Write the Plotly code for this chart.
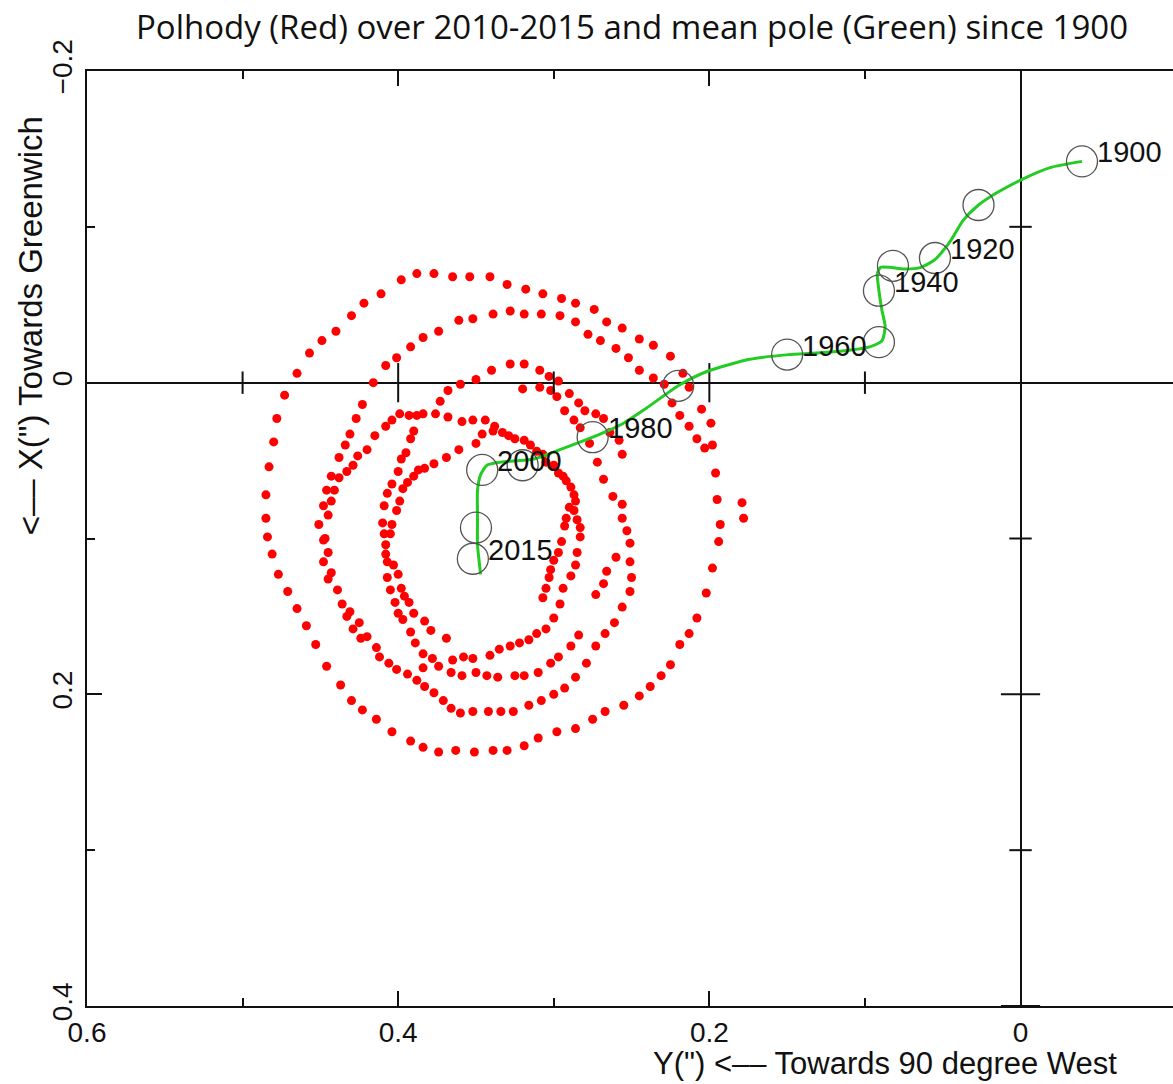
import plotly.graph_objects as go

# ---- Polhody 2010-2015: Y (toward 90 W, horizontal) and X (toward Greenwich, vertical), arcsec
polhody_y = [
    # outer loop
    0.398, 0.388, 0.377, 0.365, 0.354, 0.341, 0.330, 0.318, 0.307, 0.295, 0.286, 0.274,
    0.266, 0.256, 0.245, 0.236, 0.225, 0.217, 0.213, 0.205, 0.199,
    0.411, 0.422, 0.430, 0.440, 0.449, 0.457, 0.465, 0.473, 0.478, 0.480, 0.483, 0.485,
    0.485, 0.484, 0.481, 0.477, 0.471, 0.465, 0.459, 0.453, 0.446, 0.437, 0.430, 0.423,
    0.414, 0.404, 0.392, 0.384, 0.374, 0.363, 0.351, 0.339, 0.330, 0.319, 0.310, 0.298,
    0.286, 0.275, 0.267, 0.255, 0.245, 0.238, 0.231, 0.225, 0.219, 0.213, 0.208, 0.202,
    0.198, 0.194, 0.198, 0.196, 0.195, 0.193, 0.179, 0.178, 0.208, 0.203,
    # second loop
    0.361, 0.352, 0.339, 0.328, 0.319, 0.308, 0.296, 0.286, 0.278, 0.270, 0.260, 0.252,
    0.245, 0.236, 0.229, 0.224, 0.219, 0.213,
    0.374, 0.384, 0.392, 0.401, 0.408, 0.416, 0.423, 0.427, 0.431, 0.434, 0.438, 0.443,
    0.446, 0.448, 0.451, 0.448, 0.448, 0.445, 0.439, 0.436, 0.433, 0.429, 0.424,
    0.414, 0.406, 0.401, 0.394, 0.388, 0.383, 0.377, 0.371, 0.366, 0.360, 0.352, 0.342,
    0.334, 0.326, 0.316, 0.308, 0.300, 0.293, 0.286, 0.279, 0.273, 0.267, 0.261, 0.256,
    0.251, 0.250, 0.251, 0.251, 0.253, 0.256, 0.256, 0.256, 0.258,
    # third loop
    0.340, 0.328, 0.319, 0.309, 0.303, 0.297, 0.290, 0.284, 0.280, 0.273, 0.268,
    0.350, 0.360, 0.368, 0.373,
    0.320, 0.309, 0.302, 0.298, 0.293, 0.287, 0.283,
    0.399, 0.393, 0.388, 0.384, 0.376, 0.368, 0.404, 0.408, 0.415, 0.420, 0.426, 0.429,
    0.433, 0.438, 0.441, 0.443, 0.445, 0.447, 0.445, 0.443, 0.431, 0.425, 0.420,
    0.264, 0.277, 0.272, 0.268, 0.262, 0.260, 0.266, 0.268, 0.273,
    0.384, 0.374, 0.366, 0.359, 0.350, 0.343, 0.336, 0.325, 0.319, 0.310, 0.302, 0.297,
    0.289, 0.284, 0.412,
    # fourth loop
    0.390, 0.392, 0.395, 0.398, 0.400, 0.404, 0.407, 0.409, 0.410, 0.409, 0.408, 0.408,
    0.407, 0.407, 0.405, 0.402, 0.400, 0.397,
    0.392, 0.389, 0.384, 0.378, 0.365, 0.358, 0.352, 0.341, 0.335, 0.328, 0.322, 0.316,
    0.311, 0.305, 0.300, 0.296,
    # innermost loop
    0.350, 0.361, 0.369, 0.377, 0.383, 0.387, 0.390, 0.394, 0.397, 0.399, 0.401, 0.404,
    0.405, 0.403, 0.400, 0.398, 0.396, 0.393, 0.390, 0.383, 0.379, 0.369,
    0.359, 0.352, 0.344, 0.338, 0.333, 0.329, 0.325, 0.319, 0.315, 0.311, 0.307, 0.305,
    0.300, 0.297, 0.294, 0.292, 0.289, 0.287, 0.286, 0.290, 0.287, 0.292, 0.285, 0.293,
    0.283, 0.283, 0.295, 0.285, 0.297, 0.300, 0.286, 0.302, 0.289, 0.303, 0.305, 0.294,
    0.307, 0.346, 0.339,
]
polhody_x = [
    -0.066, -0.070, -0.070, -0.068, -0.068, -0.068, -0.063, -0.060, -0.057, -0.054, -0.051, -0.047,
    -0.039, -0.035, -0.028, -0.024, -0.017, -0.006, 0.003, 0.017, 0.026,
    -0.057, -0.051, -0.043, -0.033, -0.027, -0.019, -0.006, 0.008, 0.023, 0.038, 0.054, 0.072,
    0.087, 0.099, 0.110, 0.123, 0.134, 0.145, 0.156, 0.168, 0.182, 0.194, 0.204, 0.210,
    0.216, 0.224, 0.230, 0.234, 0.237, 0.236, 0.237, 0.236, 0.236, 0.233, 0.228, 0.224,
    0.222, 0.216, 0.211, 0.207, 0.201, 0.195, 0.188, 0.181, 0.168, 0.161, 0.151, 0.135,
    0.119, 0.102, 0.040, 0.058, 0.075, 0.091, 0.077, 0.087, 0.036, 0.042,
    -0.040, -0.041, -0.044, -0.046, -0.044, -0.044, -0.043, -0.039, -0.031, -0.027, -0.022, -0.016,
    -0.008, -0.003, 0.001, 0.013, 0.021, 0.028,
    -0.033, -0.029, -0.023, -0.016, -0.011, 0.000, 0.014, 0.023, 0.033, 0.040, 0.048, 0.060,
    0.069, 0.079, 0.091, 0.101, 0.115, 0.126, 0.133, 0.142, 0.150, 0.158, 0.164,
    0.170, 0.180, 0.184, 0.187, 0.191, 0.195, 0.199, 0.204, 0.209, 0.212, 0.211, 0.211,
    0.211, 0.211, 0.207, 0.204, 0.200, 0.196, 0.189, 0.180, 0.169, 0.161, 0.154, 0.144,
    0.134, 0.125, 0.115, 0.103, 0.095, 0.087, 0.078, 0.046, 0.037,
    -0.008, -0.012, -0.012, -0.008, -0.004, -0.001, 0.007, 0.013, 0.018, 0.020, 0.023,
    -0.002, 0.001, 0.005, 0.012,
    0.004, 0.003, 0.005, 0.009, 0.018, 0.024, 0.029,
    0.020, 0.021, 0.021, 0.020, 0.020, 0.022, 0.024, 0.028, 0.034, 0.043, 0.047, 0.053,
    0.057, 0.061, 0.069, 0.076, 0.085, 0.100, 0.109, 0.122, 0.147, 0.154, 0.163,
    0.032, 0.039, 0.051, 0.062, 0.073, 0.112, 0.121, 0.129, 0.136,
    0.183, 0.182, 0.186, 0.188, 0.186, 0.188, 0.189, 0.188, 0.188, 0.186, 0.180, 0.176,
    0.169, 0.162, 0.176,
    0.031, 0.036, 0.045, 0.049, 0.057, 0.065, 0.071, 0.079, 0.090, 0.097, 0.104, 0.110,
    0.115, 0.125, 0.133, 0.141, 0.148, 0.152,
    0.160, 0.167, 0.174, 0.177, 0.178, 0.176, 0.177, 0.175, 0.171, 0.169, 0.167, 0.165,
    0.161, 0.158, 0.151, 0.142,
    0.039, 0.043, 0.048, 0.052, 0.055, 0.056, 0.060, 0.064, 0.068, 0.076, 0.082, 0.091,
    0.097, 0.117, 0.123, 0.132, 0.137, 0.141, 0.148, 0.153, 0.159, 0.164,
    0.025, 0.024, 0.024, 0.028, 0.032, 0.034, 0.036, 0.037, 0.040, 0.044, 0.046, 0.051,
    0.053, 0.058, 0.060, 0.063, 0.067, 0.072, 0.076, 0.080, 0.082, 0.087, 0.088, 0.092,
    0.093, 0.099, 0.102, 0.109, 0.109, 0.114, 0.117, 0.120, 0.124, 0.125, 0.132, 0.132,
    0.138, 0.033, 0.031,
]

# ---- Mean pole path since 1900 (smoothed)
mean_path_y = [-0.0395, -0.019, 0.000, 0.015, 0.027, 0.037, 0.045, 0.055, 0.064, 0.075, 0.084, 0.090,
               0.092, 0.091, 0.089, 0.087, 0.089, 0.097, 0.109, 0.131, 0.149, 0.174, 0.202, 0.220,
               0.240, 0.257, 0.275, 0.296, 0.313, 0.334, 0.343, 0.347, 0.349, 0.349, 0.349, 0.347]
mean_path_x = [-0.142, -0.138, -0.130, -0.122, -0.114, -0.104, -0.091, -0.079, -0.074, -0.073, -0.074, -0.074,
               -0.070, -0.059, -0.046, -0.036, -0.027, -0.023, -0.021, -0.019, -0.018, -0.015, -0.007, 0.002,
               0.016, 0.027, 0.035, 0.043, 0.049, 0.051, 0.053, 0.059, 0.069, 0.087, 0.104, 0.123]

# ---- Mean pole at epochs
epochs = [1900, 1910, 1920, 1930, 1940, 1950, 1960, 1970, 1980, 1990, 2000, 2010, 2015]
epoch_y = [-0.0395, 0.027, 0.055, 0.082, 0.091, 0.091, 0.150, 0.220, 0.275, 0.320, 0.346, 0.350, 0.352]
epoch_x = [-0.142, -0.114, -0.080, -0.075, -0.059, -0.026, -0.018, 0.002, 0.035, 0.053, 0.056, 0.093, 0.113]
labelled_epochs = [1900, 1920, 1940, 1960, 1980, 2000, 2015]

# ---- Axis ticks
x_major = [0.6, 0.4, 0.2, 0.0]
x_major_text = ["0.6", "0.4", "0.2", "0"]
x_minor = [0.5, 0.3, 0.1]
y_major = [-0.2, 0.0, 0.2, 0.4]
y_major_text = ["\u22120.2", "0", "0.2", "0.4"]
y_minor = [-0.1, 0.1, 0.3]

SANS = "Liberation Sans, Arial, sans-serif"
TICK_FONT = dict(family=SANS, size=28, color="#111")
LABEL_FONT = dict(family=SANS, size=29, color="#111")
XTITLE_FONT = dict(family=SANS, size=31, color="#111")
YTITLE_FONT = dict(family=SANS, size=33, color="#111")

fig = go.Figure()

# polhody dots
fig.add_trace(go.Scatter(
    x=polhody_y, y=polhody_x, mode="markers",
    marker=dict(color="#ff0000", size=9, line=dict(width=0)),
    hoverinfo="skip", showlegend=False))

# cross ticks on the zero axes
fig.add_trace(go.Scatter(
    x=[0.4, 0.2], y=[0, 0], mode="markers",
    marker=dict(symbol="line-ns", size=28, line=dict(color="#111", width=2)),
    hoverinfo="skip", showlegend=False))
fig.add_trace(go.Scatter(
    x=x_minor, y=[0, 0, 0], mode="markers",
    marker=dict(symbol="line-ns", size=16, line=dict(color="#111", width=2)),
    hoverinfo="skip", showlegend=False))
fig.add_trace(go.Scatter(
    x=[0, 0], y=[0.2, 0.4], mode="markers",
    marker=dict(symbol="line-ew", size=28, line=dict(color="#111", width=2)),
    hoverinfo="skip", showlegend=False))
fig.add_trace(go.Scatter(
    x=[0, 0, 0], y=y_minor, mode="markers",
    marker=dict(symbol="line-ew", size=16, line=dict(color="#111", width=2)),
    hoverinfo="skip", showlegend=False))

# mean pole path
fig.add_trace(go.Scatter(
    x=mean_path_y, y=mean_path_x, mode="lines",
    line=dict(color="#22cc22", width=3, shape="spline", smoothing=0.6),
    hoverinfo="skip", showlegend=False))

# epoch circles
fig.add_trace(go.Scatter(
    x=epoch_y, y=epoch_x, mode="markers",
    marker=dict(symbol="circle-open", size=31, color="#555", line=dict(color="#555", width=1.3)),
    hoverinfo="skip", showlegend=False))

# epoch labels
for yr, ex, ey in zip(epochs, epoch_y, epoch_x):
    if yr in labelled_epochs:
        fig.add_annotation(x=ex, y=ey, text=str(yr), showarrow=False,
                           xanchor="left", yanchor="middle", xshift=13, yshift=9,
                           font=LABEL_FONT)

# axis titles
fig.add_annotation(x=(1119 - 87) / 1086, y=-(1083 - 1006) / 935, xref="paper", yref="paper",
                   text='Y(") <\u2013\u2013 Towards 90 degree West', showarrow=False,
                   xanchor="right", yanchor="bottom", font=XTITLE_FONT)
fig.add_annotation(x=-0.0525, y=0.728, xref="paper", yref="paper",
                   text='<\u2013\u2013 X(") Towards Greenwich', showarrow=False, textangle=-90,
                   xanchor="center", yanchor="middle", font=YTITLE_FONT)

fig.update_layout(
    width=1173, height=1084,
    margin=dict(l=87, r=0, t=71, b=78),
    paper_bgcolor="white", plot_bgcolor="white",
    title=dict(text="Polhody (Red) over 2010-2015 and mean pole (Green) since 1900",
               x=632 / 1173, xanchor="center", y=1 - 27 / 1084, yanchor="middle",
               font=dict(family="Open Sans, sans-serif", size=33, color="#111")),
    xaxis=dict(range=[0.6, -0.098], tickmode="array", tickvals=x_major, ticktext=x_major_text,
               ticks="inside", ticklen=15, tickwidth=2, tickcolor="#111",
               minor=dict(tickmode="array", tickvals=x_minor, ticks="inside", ticklen=8,
                          tickwidth=2, tickcolor="#111", showgrid=False),
               showline=True, linewidth=2, linecolor="#111", mirror="allticks",
               showgrid=False, zeroline=True, zerolinecolor="#111", zerolinewidth=2,
               tickfont=TICK_FONT, ticklabelstandoff=0),
    yaxis=dict(range=[0.4, -0.2], tickmode="array", tickvals=y_major, ticktext=y_major_text,
               ticks="inside", ticklen=15, tickwidth=2, tickcolor="#111", tickangle=-90,
               minor=dict(tickmode="array", tickvals=y_minor, ticks="inside", ticklen=8,
                          tickwidth=2, tickcolor="#111", showgrid=False),
               showline=True, linewidth=2, linecolor="#111", mirror=False,
               showgrid=False, zeroline=True, zerolinecolor="#111", zerolinewidth=2,
               tickfont=TICK_FONT, ticklabelstandoff=2),
)

fig.write_html("out.html")
